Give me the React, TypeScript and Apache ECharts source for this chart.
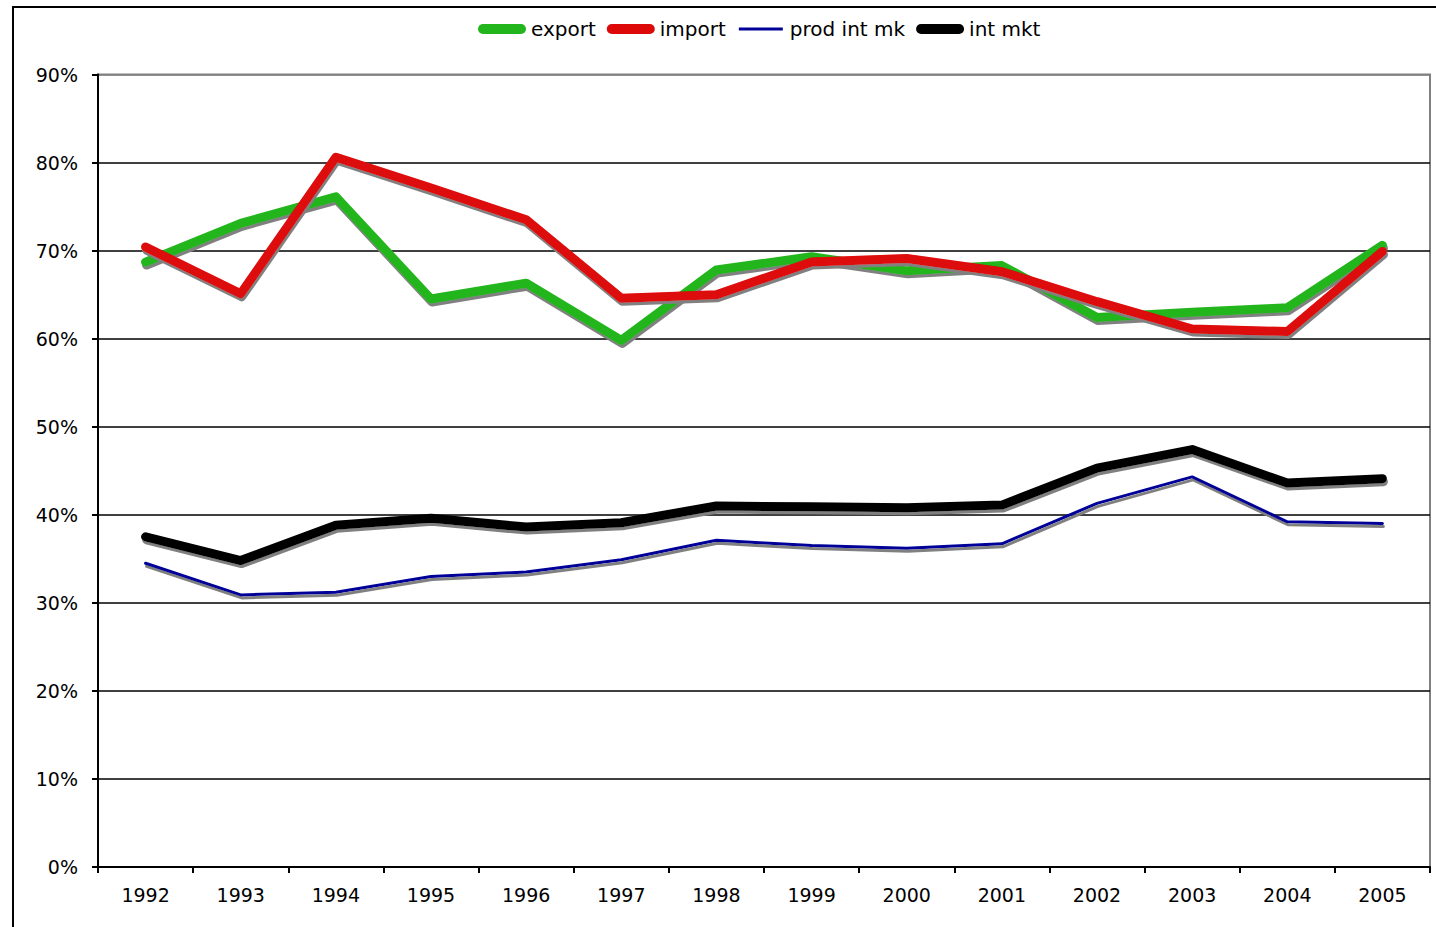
import React, { useEffect, useRef } from "react";
import * as echarts from "echarts";

const years = ["1992","1993","1994","1995","1996","1997","1998","1999","2000","2001","2002","2003","2004","2005"];
const exportVals = [68.7, 73.1, 76.1, 64.5, 66.3, 59.8, 67.8, 69.3, 67.7, 68.3, 62.4, 63.0, 63.5, 70.6];
const importVals = [70.4, 65.1, 80.6, 77.1, 73.5, 64.6, 65.0, 68.7, 69.1, 67.6, 64.2, 61.1, 60.8, 69.9];
const prodIntMk = [34.5, 30.9, 31.2, 33.0, 33.5, 34.9, 37.1, 36.5, 36.2, 36.7, 41.3, 44.3, 39.2, 39.0];
const intMkt = [37.5, 34.8, 38.8, 39.6, 38.6, 39.1, 41.0, 40.9, 40.8, 41.1, 45.3, 47.4, 43.6, 44.1];
const yTicks = [0, 10, 20, 30, 40, 50, 60, 70, 80, 90];
const legendNames = ["export", "import", "prod int mk", "int mkt"];

const FONT = "DejaVu Sans";
const THICK_ICON = "path://M5,0 L43,0 A5,5 0 0 1 43,10 L5,10 A5,5 0 0 1 5,0 Z";
const THIN_ICON = "path://M0,0 L0,0.01 M2,3.5 L46,3.5 L46,6.5 L2,6.5 Z M48,10 L48,9.99";

export default function App() {
  const ref = useRef<HTMLDivElement>(null);
  useEffect(() => {
    if (!ref.current) return;
    const chart = echarts.init(ref.current, null, { renderer: "svg" });
    const mk = (name: string, data: number[], color: string, width: number) => ({
      name,
      type: "line",
      data,
      symbol: "none",
      lineStyle: {
        color,
        width,
        cap: "round",
        join: "round",
        shadowColor: "#808080",
        shadowOffsetX: 1,
        shadowOffsetY: 3,
        shadowBlur: 0,
      },
      itemStyle: { color },
    });
    chart.setOption({
      animation: false,
      backgroundColor: "#fff",
      graphic: [
        {
          type: "rect",
          shape: { x: 13, y: 7, width: 1500, height: 1000 },
          style: { fill: "none", stroke: "#000", lineWidth: 2 },
          silent: true,
          z: -10,
        },
      ],
      legend: {
        top: 14,
        left: 473,
        itemWidth: 48,
        itemHeight: 10,
        itemGap: 11,
        itemStyle: { borderWidth: 0 },
        textStyle: { fontFamily: FONT, fontSize: 20, color: "#000" },
        data: legendNames.map((n, i) => ({ name: n, icon: i === 2 ? THIN_ICON : THICK_ICON })),
      },
      grid: {
        left: 98,
        right: 6,
        top: 74.5,
        bottom: 60,
        show: true,
        borderColor: "#808080",
        borderWidth: 2,
        backgroundColor: "transparent",
      },
      xAxis: {
        type: "category",
        data: years,
        boundaryGap: true,
        axisLine: { lineStyle: { color: "#000", width: 2 } },
        axisTick: { show: true, length: 6, lineStyle: { color: "#000", width: 2 } },
        axisLabel: { fontFamily: FONT, fontSize: 19, color: "#000", margin: 18 },
        splitLine: { show: false },
      },
      yAxis: {
        type: "value",
        min: 0,
        max: 90,
        interval: 10,
        axisLine: { show: true, lineStyle: { color: "#000", width: 2 } },
        axisTick: { show: true, length: 6, lineStyle: { color: "#000", width: 2 } },
        axisLabel: {
          fontFamily: FONT,
          fontSize: 19,
          color: "#000",
          margin: 20,
          formatter: (v: number) => (yTicks.includes(v) ? `${v}%` : ""),
        },
        splitLine: {
          show: true,
          lineStyle: {
            color: ["#000", "#000", "#000", "#000", "#000", "#000", "#000", "#000", "#000", "#808080"],
            width: 1.6,
          },
        },
      },
      series: [
        mk(legendNames[0], exportVals, "#22b51c", 9),
        mk(legendNames[1], importVals, "#dd0808", 9),
        mk(legendNames[2], prodIntMk, "#000099", 3),
        mk(legendNames[3], intMkt, "#000000", 9),
      ],
    });
    return () => chart.dispose();
  }, []);
  return (
    <div
      ref={ref}
      style={{ position: "fixed", left: 0, top: 0, width: 1436, height: 927 }}
    />
  );
}
